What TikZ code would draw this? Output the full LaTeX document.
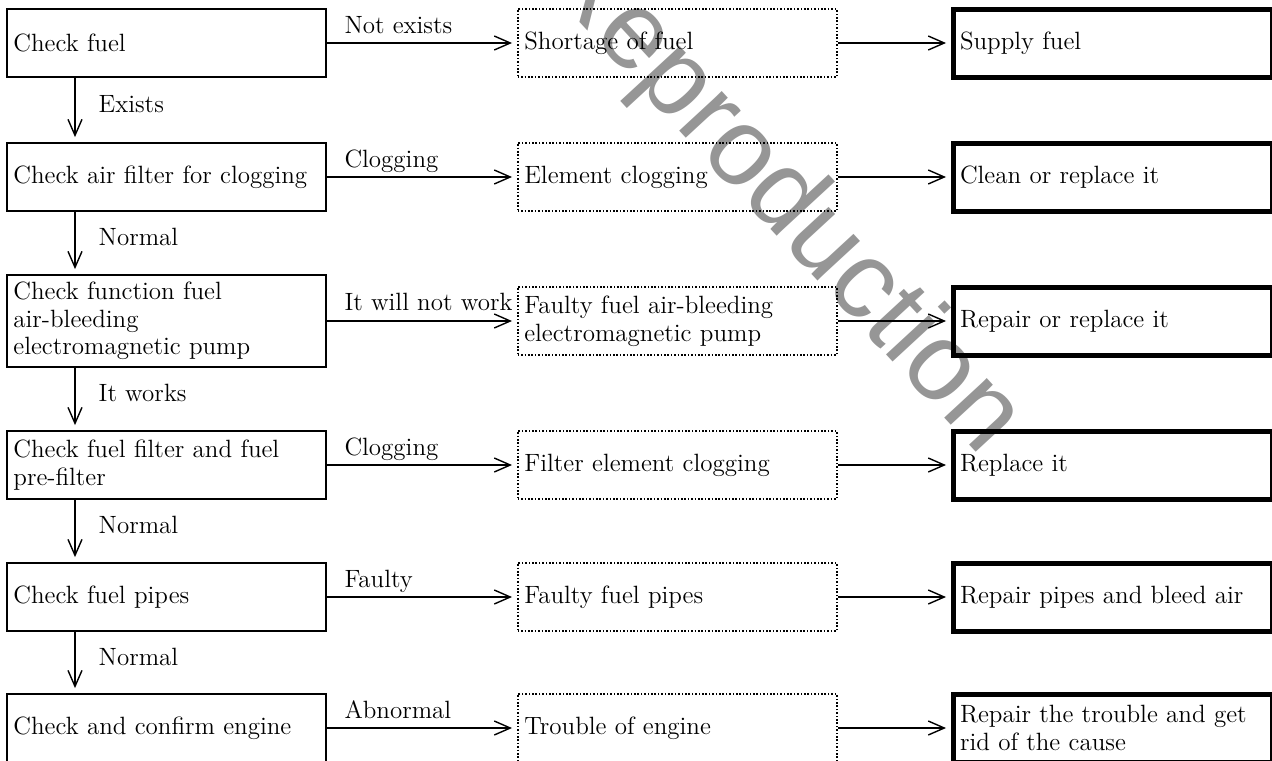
\documentclass[tikz,border=0pt]{standalone}
\usepackage{fontspec}
\usepackage{tikz}
\usetikzlibrary{arrows.meta,calc}
\newfontfamily\wmfont{Liberation Sans}
\definecolor{wmgray}{RGB}{150,150,150}
\newcommand{\boxfont}{\fontsize{12.5}{13.8}\selectfont}
\tikzset{
    % boxes of the three columns
    checkbox/.style={
        draw,
        line width=0.9pt,
        rectangle,
        anchor=west,
        minimum width=159.5pt,
        minimum height=34pt,
        text width=153pt,
        inner xsep=3.25pt,
        inner ysep=2pt,
        align=left,
        font=\boxfont
    },
    causebox/.style={
        checkbox,
        line width=0.8pt,
        dash pattern=on 0.8pt off 0.9pt
    },
    fixbox/.style={
        checkbox,
        line width=2.5pt
    },
    flowarrow/.style={
        line width=0.7pt,
        black,
        ->,
        >={Straight Barb[length=8pt, width=7pt]},
        shorten >=2.5pt
    },
    yesno/.style={
        inner sep=0pt,
        font=\boxfont
    },
    wmark/.style={
        text=wmgray,
        inner sep=0pt,
        rotate=-47.3,
        font=\wmfont\fontsize{55}{55}\selectfont
    }
}
\begin{document}
\begin{tikzpicture}[x=0.5pt, y=-0.5pt]
    \useasboundingbox (0,0) rectangle (1272,760);
    \node[wmark] (wm) at (780,198) {Reproduction};

    \node[checkbox] (chk1) at (6,43) {Check fuel};
    \node[checkbox] (chk2) at (6,177) {Check air filter for clogging};
    \node[checkbox, minimum height=46pt] (chk3) at (6,321) {Check function fuel\\air-bleeding\\electromagnetic pump};
    \node[checkbox] (chk4) at (6,465) {Check fuel filter and fuel\\pre-filter};
    \node[checkbox] (chk5) at (6,597) {Check fuel pipes};
    \node[checkbox] (chk6) at (6,728) {Check and confirm engine};

    \node[causebox] (cause1) at (517,43) {Shortage of fuel};
    \node[causebox] (cause2) at (517,177) {Element clogging};
    \node[causebox] (cause3) at (517,321) {Faulty fuel air-bleeding\\electromagnetic pump};
    \node[causebox] (cause4) at (517,465) {Filter element clogging};
    \node[causebox] (cause5) at (517,597) {Faulty fuel pipes};
    \node[causebox] (cause6) at (517,728) {Trouble of engine};

    \node[fixbox] (fix1) at (951,43) {Supply fuel};
    \node[fixbox] (fix2) at (951,177) {Clean or replace it};
    \node[fixbox] (fix3) at (951,321) {Repair or replace it};
    \node[fixbox] (fix4) at (951,465) {Replace it};
    \node[fixbox] (fix5) at (951,597) {Repair pipes and bleed air};
    \node[fixbox] (fix6) at (951,728) {Repair the trouble and get\\rid of the cause};

    \draw[flowarrow] (chk1.east) -- node[yesno, pos=0, anchor=base west, xshift=8.5pt, yshift=5pt] {Not exists} (cause1.west);
    \draw[flowarrow] (chk2.east) -- node[yesno, pos=0, anchor=base west, xshift=8.5pt, yshift=5pt] {Clogging} (cause2.west);
    \draw[flowarrow] (chk3.east) -- node[yesno, pos=0, anchor=base west, xshift=8.5pt, yshift=5.5pt] {It will not work} (cause3.west);
    \draw[flowarrow] (chk4.east) -- node[yesno, pos=0, anchor=base west, xshift=8.5pt, yshift=5pt] {Clogging} (cause4.west);
    \draw[flowarrow] (chk5.east) -- node[yesno, pos=0, anchor=base west, xshift=8.5pt, yshift=5pt] {Faulty} (cause5.west);
    \draw[flowarrow] (chk6.east) -- node[yesno, pos=0, anchor=base west, xshift=8.5pt, yshift=5pt] {Abnormal} (cause6.west);

    \foreach \r in {1,...,6}
        \draw[flowarrow] (cause\r.east) -- (fix\r.west);

    \coordinate (vx) at (75,0);
    \draw[flowarrow] (chk1.south -| vx) -- node[yesno, anchor=west, xshift=11.5pt, yshift=3pt] {Exists} (chk2.north -| vx);
    \draw[flowarrow] (chk2.south -| vx) -- node[yesno, anchor=west, xshift=11.5pt, yshift=3pt] {Normal} (chk3.north -| vx);
    \draw[flowarrow] (chk3.south -| vx) -- node[yesno, anchor=west, xshift=11.5pt, yshift=3pt] {It works} (chk4.north -| vx);
    \draw[flowarrow] (chk4.south -| vx) -- node[yesno, anchor=west, xshift=11.5pt, yshift=3pt] {Normal} (chk5.north -| vx);
    \draw[flowarrow] (chk5.south -| vx) -- node[yesno, anchor=west, xshift=11.5pt, yshift=3pt] {Normal} (chk6.north -| vx);
\end{tikzpicture}
\end{document}
